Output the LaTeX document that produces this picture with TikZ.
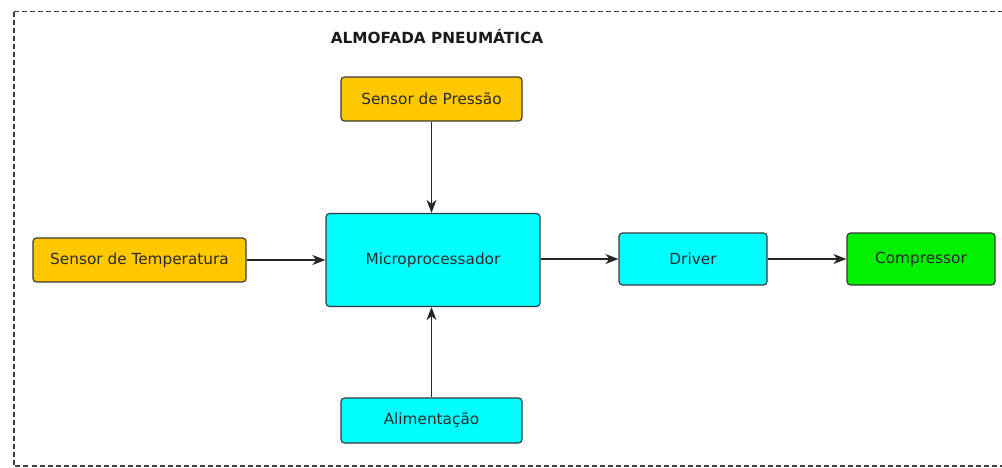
\documentclass[tikz,border=0pt]{standalone}
\usepackage{fontspec}
\setmainfont{DejaVu Sans}
\usetikzlibrary{arrows.meta}
\definecolor{yel}{HTML}{FFC800}
\definecolor{cya}{HTML}{00FFFF}
\definecolor{grn}{HTML}{00F000}
\definecolor{edge}{HTML}{3A3A3A}
\definecolor{txt}{HTML}{2A2A2A}
\tikzset{
  blk/.style={draw=edge, line width=1.2pt, rounded corners=3.5pt, inner sep=0pt, text=txt, font=\fontsize{15.3}{17}\selectfont},
  conn/.style={draw=black!85, line width=1.3pt, -{Stealth[length=13pt,width=10pt,inset=4pt]}},
}
\begin{document}
\begin{tikzpicture}[x=1pt,y=-1pt]
\useasboundingbox (0,0) rectangle (1002,467);
\fill[white] (0,0) rectangle (1002,467);
\draw[black!75, line width=1.1pt, dash pattern=on 5pt off 3pt] (14,11.5) -- (1010,11.5) (14,11.5) -- (14,466) -- (1010,466);
\node[font=\bfseries\fontsize{15.3}{17}\selectfont, text=black!90] (title) at (437,37) {ALMOFADA PNEUMÁTICA};
\node[blk, fill=yel, minimum width=181pt, minimum height=44pt] (pres) at (431.5,99) {Sensor de Pressão};
\node[blk, fill=yel, minimum width=213pt, minimum height=44pt] (temp) at (139.5,260) {Sensor de Temperatura};
\node[blk, fill=cya, minimum width=214pt, minimum height=93pt] (micro) at (433,260) {Microprocessador};
\node[blk, fill=cya, minimum width=148pt, minimum height=52pt] (drv) at (693,259) {Driver};
\node[blk, fill=grn, minimum width=148pt, minimum height=52pt] (comp) at (921,259) {Compressor};
\node[blk, fill=cya, minimum width=181pt, minimum height=45pt] (alim) at (431.5,420.5) {Alimentação};
\draw[conn] (pres.south) -- (pres.south |- micro.north);
\draw[conn] (alim.north) -- (alim.north |- micro.south);
\draw[conn] (temp.east) -- (temp.east -| micro.west);
\draw[conn] (micro.east |- drv.west) -- (drv.west);
\draw[conn] (drv.east) -- (comp.west);
\end{tikzpicture}
\end{document}
